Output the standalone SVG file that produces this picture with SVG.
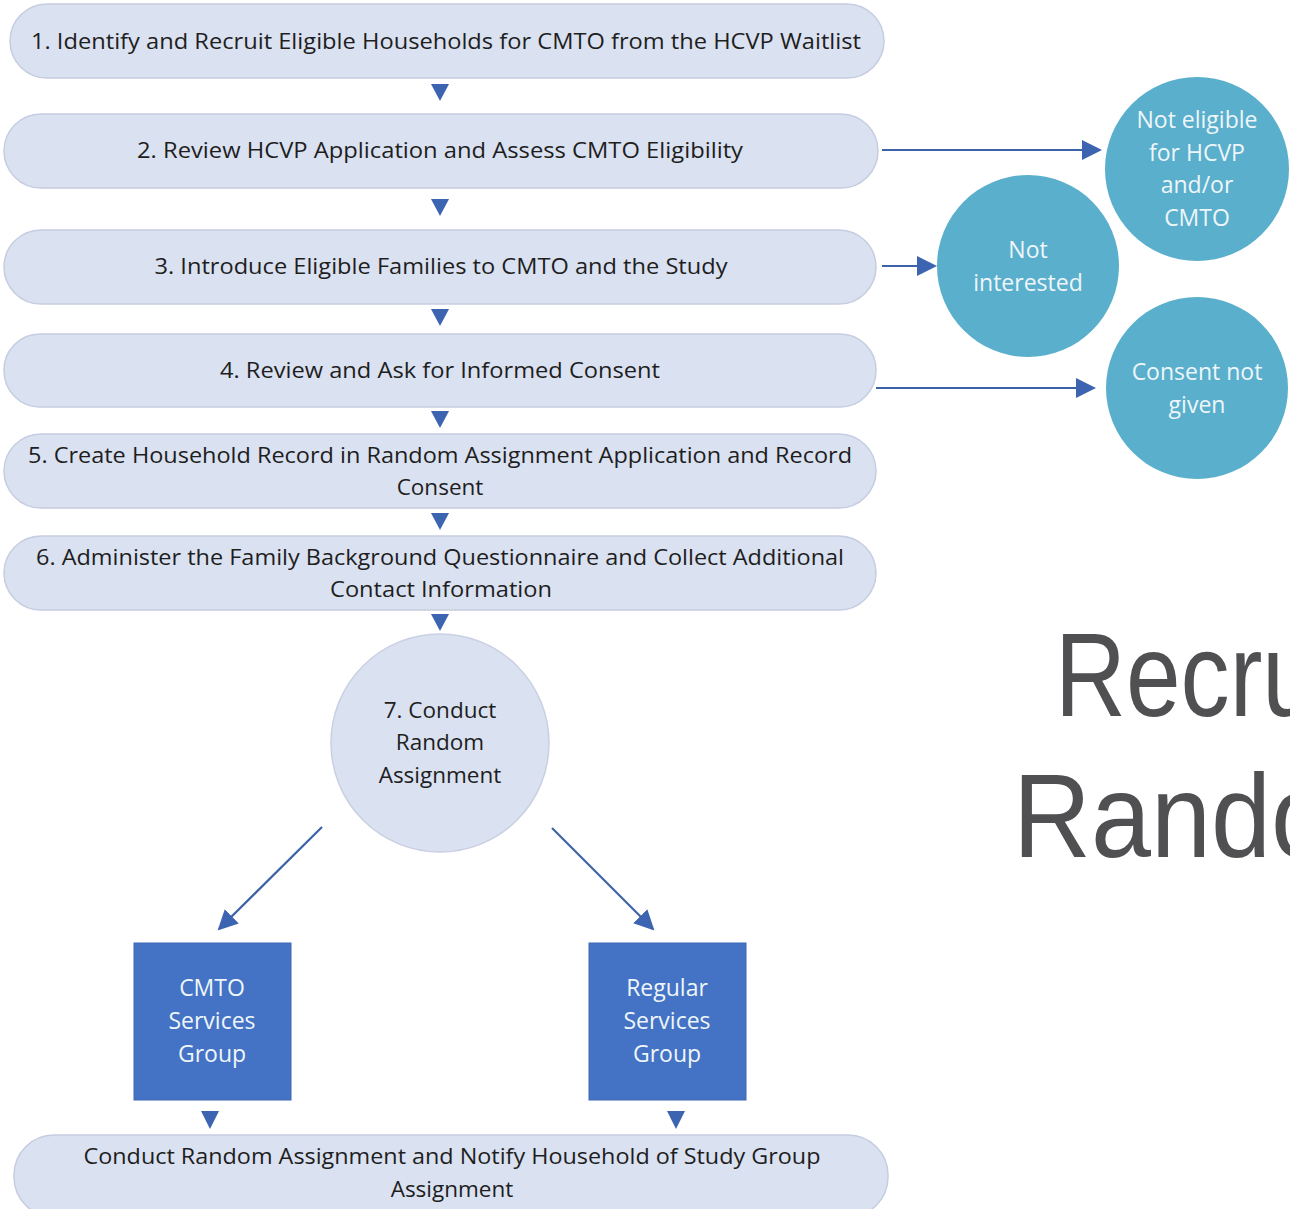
<svg xmlns="http://www.w3.org/2000/svg" width="1290" height="1209" viewBox="0 0 1290 1209">
  <defs>
    <style>
      .step { fill: #dae1f1; stroke: #c5cde0; stroke-width: 1.5; }
      .hub { fill: #dae1f1; stroke: #c9d0e2; stroke-width: 1.5; }
      .group { fill: #4472c4; stroke: #3f69b5; stroke-width: 1; }
      .exit { fill: #5aafcc; }
      .txt { font-family: "Open Sans", "Liberation Sans", sans-serif; font-size: 22.5px; fill: #1e1e1e; text-anchor: middle; }
      .wtxt { font-family: "Open Sans", "Liberation Sans", sans-serif; font-size: 23px; fill: #eef6fa; text-anchor: middle; }
      .big { font-family: "Liberation Sans", "Open Sans", sans-serif; font-size: 118px; fill: #505052; }
      .line { stroke: #3c63a8; stroke-width: 2.2; fill: none; }
      .tri { fill: #3d64b0; }
    </style>
    <marker id="headL" viewBox="0 0 10 10" refX="9" refY="5" markerWidth="20" markerHeight="20" markerUnits="userSpaceOnUse" orient="auto">
      <path d="M0,0 L10,5 L0,10 Z" fill="#3d64b0"/>
    </marker>
  </defs>

  <rect width="1290" height="1209" fill="#ffffff"/>

  <!-- title, running off the right edge -->
  <g id="title">
    <text class="big" x="1055" y="716" textLength="262" lengthAdjust="spacingAndGlyphs">Recru</text>
    <text class="big" x="1013" y="857" textLength="318" lengthAdjust="spacingAndGlyphs">Rando</text>
  </g>

  <!-- connectors -->
  <g id="connectors">
    <path class="tri" d="M431,84 L449,84 L440,101 Z"/>
    <path class="tri" d="M431,199 L449,199 L440,216 Z"/>
    <path class="tri" d="M431,309 L449,309 L440,326 Z"/>
    <path class="tri" d="M431,411 L449,411 L440,428 Z"/>
    <path class="tri" d="M431,513 L449,513 L440,530 Z"/>
    <path class="tri" d="M431,614 L449,614 L440,631 Z"/>
    <path class="tri" d="M201,1111 L219,1111 L210,1129 Z"/>
    <path class="tri" d="M667,1111 L685,1111 L676,1129 Z"/>

    <line class="line" x1="882" y1="150" x2="1100" y2="150" marker-end="url(#headL)"/>
    <line class="line" x1="882" y1="266" x2="935" y2="266" marker-end="url(#headL)"/>
    <line class="line" x1="876" y1="388" x2="1094" y2="388" marker-end="url(#headL)"/>

    <line class="line" x1="322" y1="827" x2="219" y2="929" marker-end="url(#headL)"/>
    <line class="line" x1="552" y1="828" x2="653" y2="929" marker-end="url(#headL)"/>
  </g>

  <g id="step1">
    <rect class="step" x="10" y="4" width="874" height="74" rx="37"/>
    <text class="txt" x="446" y="49" textLength="830" lengthAdjust="spacingAndGlyphs">1. Identify and Recruit Eligible Households for CMTO from the HCVP Waitlist</text>
  </g>
  <g id="step2">
    <rect class="step" x="4" y="114" width="874" height="74" rx="37"/>
    <text class="txt" x="440" y="158" textLength="606" lengthAdjust="spacingAndGlyphs">2. Review HCVP Application and Assess CMTO Eligibility</text>
  </g>
  <g id="step3">
    <rect class="step" x="4" y="230" width="872" height="74" rx="37"/>
    <text class="txt" x="441" y="274" textLength="573" lengthAdjust="spacingAndGlyphs">3. Introduce Eligible Families to CMTO and the Study</text>
  </g>
  <g id="step4">
    <rect class="step" x="4" y="334" width="872" height="73" rx="36"/>
    <text class="txt" x="440" y="378" textLength="440" lengthAdjust="spacingAndGlyphs">4. Review and Ask for Informed Consent</text>
  </g>
  <g id="step5">
    <rect class="step" x="4" y="434" width="872" height="74" rx="37"/>
    <text class="txt" x="440" y="463" textLength="824" lengthAdjust="spacingAndGlyphs">5. Create Household Record in Random Assignment Application and Record</text>
    <text class="txt" x="440" y="495">Consent</text>
  </g>
  <g id="step6">
    <rect class="step" x="4" y="536" width="872" height="74" rx="37"/>
    <text class="txt" x="440" y="565" textLength="808" lengthAdjust="spacingAndGlyphs">6. Administer the Family Background Questionnaire and Collect Additional</text>
    <text class="txt" x="441" y="597" textLength="222" lengthAdjust="spacingAndGlyphs">Contact Information</text>
  </g>
  <g id="step7">
    <circle class="hub" cx="440" cy="743" r="109"/>
    <text class="txt" x="440" y="718">7. Conduct</text>
    <text class="txt" x="440" y="750">Random</text>
    <text class="txt" x="440" y="783">Assignment</text>
  </g>
  <g id="cmto-group">
    <rect class="group" x="134" y="943" width="157" height="157"/>
    <text class="wtxt" x="212" y="996">CMTO</text>
    <text class="wtxt" x="212" y="1029">Services</text>
    <text class="wtxt" x="212" y="1062">Group</text>
  </g>
  <g id="regular-group">
    <rect class="group" x="589" y="943" width="157" height="157"/>
    <text class="wtxt" x="667" y="996">Regular</text>
    <text class="wtxt" x="667" y="1029">Services</text>
    <text class="wtxt" x="667" y="1062">Group</text>
  </g>
  <g id="step8">
    <rect class="step" x="14" y="1135" width="874" height="82" rx="40"/>
    <text class="txt" x="452" y="1164" textLength="737" lengthAdjust="spacingAndGlyphs">Conduct Random Assignment and Notify Household of Study Group</text>
    <text class="txt" x="452" y="1197">Assignment</text>
  </g>

  <g id="not-eligible">
    <circle class="exit" cx="1197" cy="169" r="92"/>
    <text class="wtxt" x="1197" y="128">Not eligible</text>
    <text class="wtxt" x="1197" y="161">for HCVP</text>
    <text class="wtxt" x="1197" y="193">and/or</text>
    <text class="wtxt" x="1197" y="226">CMTO</text>
  </g>
  <g id="not-interested">
    <circle class="exit" cx="1028" cy="266" r="91"/>
    <text class="wtxt" x="1028" y="258">Not</text>
    <text class="wtxt" x="1028" y="291">interested</text>
  </g>
  <g id="consent-not-given">
    <circle class="exit" cx="1197" cy="388" r="91"/>
    <text class="wtxt" x="1197" y="380">Consent not</text>
    <text class="wtxt" x="1197" y="413">given</text>
  </g>
</svg>
